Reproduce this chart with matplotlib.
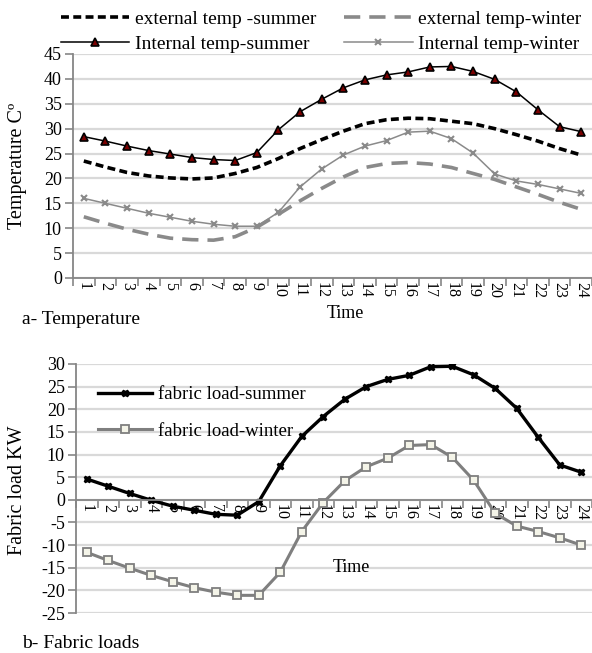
import matplotlib
matplotlib.use("Agg")
import matplotlib.pyplot as plt
import numpy as np

plt.rcParams['font.family'] = ['Liberation Serif', 'DejaVu Serif']
plt.rcParams['axes.unicode_minus'] = False

hours = list(range(1, 25))
hour_labels = [str(h) for h in hours]

ext_summer = [23.5, 22.3, 21.2, 20.5, 20.1, 19.9, 20.1, 21.0, 22.2, 24.0, 26.0, 27.8,
              29.5, 31.0, 31.8, 32.1, 32.0, 31.5, 31.0, 30.0, 28.8, 27.5, 26.0, 24.7]
ext_winter = [12.3, 11.0, 9.8, 8.8, 8.0, 7.7, 7.6, 8.3, 10.2, 12.8, 15.5, 18.0,
              20.3, 22.2, 23.0, 23.2, 22.9, 22.2, 21.0, 19.8, 18.3, 16.8, 15.2, 13.8]
int_summer = [28.4, 27.5, 26.5, 25.6, 24.9, 24.2, 23.8, 23.6, 25.2, 29.8, 33.4, 35.9,
              38.2, 39.8, 40.8, 41.4, 42.4, 42.5, 41.5, 39.9, 37.4, 33.8, 30.4, 29.4]
int_winter = [16.0, 15.0, 14.0, 13.0, 12.2, 11.4, 10.8, 10.4, 10.4, 13.2, 18.3, 21.9,
              24.7, 26.5, 27.6, 29.3, 29.5, 28.0, 25.1, 20.9, 19.5, 18.8, 17.9, 17.0]

fabric_summer = [4.6, 3.0, 1.4, -0.1, -1.4, -2.3, -3.2, -3.4, -0.4, 7.5, 14.0, 18.4,
                 22.2, 25.0, 26.6, 27.5, 29.4, 29.5, 27.6, 24.6, 20.2, 13.8, 7.7, 6.1]
fabric_winter = [-11.6, -13.4, -15.1, -16.7, -18.1, -19.4, -20.4, -21.1, -21.1, -16.0, -7.0, -0.6,
                 4.2, 7.3, 9.2, 12.0, 12.2, 9.4, 4.3, -3.0, -5.8, -7.0, -8.4, -10.0]

W, H = 592, 653
fig = plt.figure(figsize=(W / 100, H / 100), dpi=100)

GRID = '#d9d9d9'
AXC = '#868686'
GRAY = '#8a8a8a'


def px_axes(left, top, right, bottom):
    return [left / W, 1 - bottom / H, (right - left) / W, (bottom - top) / H]


def style(ax, ylim, ystep):
    ax.set_xlim(0.5, 24.5)
    ax.set_ylim(*ylim)
    ax.set_yticks(np.arange(ylim[0], ylim[1] + 0.1, ystep))
    ax.yaxis.grid(True, color=GRID, lw=1.6)
    ax.set_axisbelow(True)
    for s in ['top', 'right']:
        ax.spines[s].set_visible(False)
    for s in ['left', 'bottom']:
        ax.spines[s].set_color(AXC)
        ax.spines[s].set_linewidth(1.3)
    ax.set_xticks(hours)
    ax.set_xticklabels(hour_labels, rotation=-90, fontsize=11.5)
    ax.set_xticks(np.arange(0.5, 25, 1), minor=True)
    ax.tick_params(axis='x', which='major', length=0, pad=3)
    ax.tick_params(axis='x', which='minor', length=6, color=AXC, width=1.2)
    ax.tick_params(axis='y', length=6, color=AXC, width=1.2, labelsize=13, pad=2)


# ---- Top chart ----
ax1 = fig.add_axes(px_axes(73, 54, 592, 278))
style(ax1, (0, 45), 5)
l1, = ax1.plot(hours, ext_summer, color='black', lw=2.6, ls=(0, (2.2, 1.2)),
               label='external temp -summer')
l2, = ax1.plot(hours, ext_winter, color=GRAY, lw=2.6, ls=(0, (4.5, 2.5)),
               label='external temp-winter')
l3, = ax1.plot(hours, int_summer, color='black', lw=1.1, marker='^', ms=5.5,
               mfc='#7a0000', mec='black', mew=1.2, label='Internal temp-summer')
l4, = ax1.plot(hours, int_winter, color=GRAY, lw=1.1, marker='x', ms=5,
               mew=1.5, label='Internal temp-winter')

fig.legend([l1, l3, l2, l4],
           ['external temp -summer', 'Internal temp-summer',
            'external temp-winter', 'Internal temp-winter'],
           ncol=2, loc='upper left', bbox_to_anchor=(61 / W, 1 - 10 / H),
           frameon=False, fontsize=14, handlelength=3.5, handletextpad=0.3,
           columnspacing=1.45, labelspacing=0.4, borderaxespad=0, borderpad=0)

fig.text(18 / W, 1 - 166 / H, 'Temperature Cº', rotation=90, ha='center', va='center',
         fontsize=14.5)
fig.text(345 / W, 1 - 313 / H, 'Time', ha='center', va='center', fontsize=13)
fig.text(22 / W, 1 - 320 / H, 'a- Temperature', ha='left', va='center', fontsize=14)

# ---- Bottom chart ----
ax2 = fig.add_axes(px_axes(76, 364, 592, 613))
ax2.spines['bottom'].set_position(('data', 0))
style(ax2, (-25, 30), 5)
m1, = ax2.plot(hours, fabric_summer, color='black', lw=2.4, marker='X', ms=5,
               mfc='black', mec='black', label='fabric load-summer')
m2, = ax2.plot(hours, fabric_winter, color='#7f7f7f', lw=2.2, marker='s', ms=5.5,
               mfc='#f4f4e8', mec='#7f7f7f', mew=1.3, label='fabric load-winter')
ax2.legend(loc='upper left', bbox_to_anchor=(22 / (592 - 76), 1 - 22 / (613 - 364)),
           frameon=False, fontsize=13.5, handlelength=2.9, handletextpad=0.3,
           labelspacing=1.05, borderaxespad=0, borderpad=0)
ax2.text(13.3, -15, 'Time', ha='center', va='center', fontsize=13)
fig.text(18 / W, 1 - 490 / H, 'Fabric load KW', rotation=90, ha='center', va='center',
         fontsize=14.5)
fig.text(22 / W, 1 - 643 / H, 'b- Fabric loads', ha='left', va='center', fontsize=14)

fig.savefig('out.png', dpi=100)
